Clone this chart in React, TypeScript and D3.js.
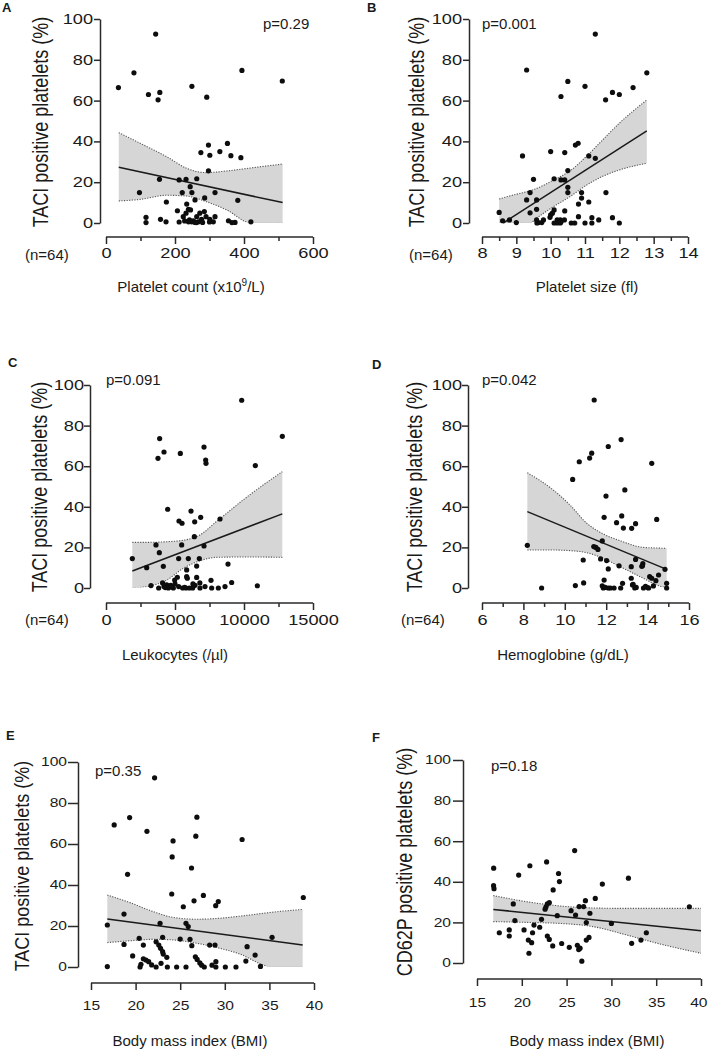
import { useEffect, useRef } from 'react';
import * as d3 from 'd3';

// ---- A: platelet count vs TACI+ platelets ----
const countX = [36, 81, 144, 123, 156, 151, 249, 292, 394, 511,
  297, 352, 275, 301, 330, 362, 391, 297,
  155, 212, 232, 263, 244, 97, 221, 249, 316, 382, 286, 258, 175, 234, 207, 239,
  116, 116, 158, 174, 212, 224, 232, 242, 245, 239, 248, 253, 263, 268, 272, 277, 285, 290, 301, 311, 316, 355, 374, 420,
  228, 258, 280, 300, 365, 262];
const countTaci = [66.4, 73.6, 92.6, 63, 64, 60.4, 67, 61.7, 74.8, 69.6,
  38.2, 39, 34.5, 33.2, 35, 33, 32, 25.6,
  21.4, 21.1, 21.4, 21.7, 17.8, 14.9, 14.9, 14.9, 14.9, 11.1, 12.3, 11.3, 10.3, 9.3, 6, 6.7,
  2.8, 0.2, 1.8, 0.6, 0.5, 3.1, 4.8, 1.5, 6.4, 0.6, 0.6, 1.1, 3.1, 0.6, 4.8, 1.8, 5.6, 3.1, 1.8, 0.6, 3.1, 1.1, 0.3, 0.6,
  1, 0.3, 0.3, 0.5, 0.2, 0.2];
const countBandX = [37, 100, 176, 234, 290, 350, 420, 512];
const countBandHi = [44.3, 39, 32.5, 26.8, 24.7, 25.5, 27, 28.9];
const countBandLo = [10.8, 11.6, 13.6, 13.2, 10.5, 6.4, 0, 0];
const countFitX = [37, 512];
const countFitY = [27.3, 10];

// ---- B: platelet size ----
const sizeX = [9.3, 11.3, 10.5, 11.0, 10.3, 11.6, 11.8, 12.0, 12.4, 12.8,
  9.18, 10.0, 10.41, 10.72, 10.8, 11.11, 11.3, 10.5,
  9.5, 10.1, 10.3, 10.41, 10.5, 10.5, 10.9, 11.61, 9.4, 10.9, 9.3, 9.59, 11.11, 10.81,
  8.5, 9.4, 9.59, 10.1, 10.41, 10.0, 10.05, 9.98,
  8.6, 8.8, 9.0, 9.59, 9.64, 9.79, 9.74, 10.19, 10.19, 10.28, 10.28, 10.4, 10.6, 10.7, 10.81, 11.0, 11.2, 11.2, 11.4, 11.8, 12.0,
  9.6, 10.3, 10.1];
const sizeTaci = [75, 92.6, 69.4, 67, 62, 60.4, 64, 63, 66.4, 73.6,
  32.9, 35, 34.5, 38.2, 39.1, 32.9, 31.7, 25.7,
  21.4, 21.7, 21.1, 21.1, 17.5, 14.9, 14.9, 14.9, 14.9, 12.2, 11.3, 11.3, 10.3, 9.3,
  5.2, 5, 6.7, 6.4, 5.9, 4, 4.8, 2.8,
  1.1, 1.5, 0.2, 1.5, 0.2, 1.5, 0.2, 1.5, 0, 1.5, 0, 1.5, 0, 0, 3.1, 0, 2.6, 0, 1.5, 2.6, 0,
  0, 0.5, 0];
const sizeBandX = [8.5, 9.0, 9.4, 9.6, 10.08, 10.56, 11.05, 11.53, 12.0, 12.8];
const sizeBandHi = [11.8, 14.1, 15.8, 17, 21, 25.5, 32.8, 41, 48.9, 60.3];
const sizeBandLo = [0, 0, 0, 2.5, 8, 12.9, 18.6, 23, 26, 29.3];
const sizeFitX = [8.62, 12.8];
const sizeFitY = [0, 45.2];

// ---- C: leukocytes ----
const leukoX = [9832, 3888, 3768, 4203, 5387, 7102, 7223, 7247, 10822, 12778, 4469,
  6160, 5290, 5508, 6426, 6860, 8261,
  3623, 3865, 5484, 6402, 7102,
  1908, 5266, 5966, 6763, 2947, 4155, 6570, 8840, 5845,
  5845, 5893, 5169, 4976, 6570, 7608, 9106, 10966, 3261,
  3817, 4203, 4517, 4686, 4879, 5266, 5556, 5797, 6039, 6280, 6449, 6811, 7174, 7657, 8140, 8623,
  4100, 4400, 4700, 5000, 6300, 6800, 5700, 4300];
const leukoTaci = [92.5, 73.6, 63.9, 67, 66.3, 69.4, 63, 61.4, 60.3, 74.7, 38.8,
  37.9, 33, 31.9, 32.6, 34.8, 34,
  21.2, 17.4, 21.2, 25.3, 20.7,
  14.5, 14.5, 14.5, 14.5, 10, 10.7, 10.8, 11.8, 8.9,
  5.6, 4.8, 5.3, 3.9, 5.2, 3.8, 2.7, 1.1, 1.2,
  0, 0.7, 0, 1.3, 0, 0.7, 0, 0, 0, 0, 1.3, 0, 0.7, 0, 0, 0.7,
  2.5, 1.5, 0.5, 2, 2, 2.5, 0.3, 0.2];
const leukoBandX = [1906, 3200, 4400, 5600, 6800, 8000, 10400, 12775];
const leukoBandHi = [22.5, 22.5, 22.8, 23.5, 26.1, 32.7, 45.8, 57.3];
const leukoBandLo = [0, 1, 3.9, 9.7, 13.4, 15.1, 15.3, 15.1];
const leukoFitX = [1906, 12775];
const leukoFitY = [8.4, 36.5];

// ---- D: hemoglobine ----
const hbX = [11.42, 11.3, 11.2, 10.7, 12.1, 12.72, 10.38, 11.99, 12.9, 14.2,
  11.9, 12.5, 12.75, 12.83, 13.23, 13.42, 14.44,
  8.19, 11.81, 11.4, 11.5, 11.6,
  10.89, 11.73, 12.02, 12.1, 12.62, 13.21, 13.42, 13.72, 13.77, 13.75, 14.84, 14.53, 14.1, 14.2, 14.4,
  8.88, 10.51, 10.91, 11.9, 12.79, 13.21, 13.27, 13.38, 11.86, 12.1, 12.38, 12.7, 13.8, 14.05, 14.92, 11.81, 14.28, 14.92,
  11.95, 13.3, 13.45, 13.9, 14.0, 12.2];
const hbTaci = [92.6, 66.4, 64, 62.2, 69.7, 73.1, 53.5, 45.3, 48.3, 61.4,
  34.8, 32.2, 35.5, 29.5, 29.4, 31.7, 33.8,
  21, 23.2, 20.4, 20, 19,
  13.8, 14.3, 13.5, 9.4, 10.9, 10.5, 14.1, 10.7, 12, 11, 9.2, 6.4, 5.6, 4.8, 3.6,
  0, 1.2, 2.5, 3.9, 2.3, 4.8, 1.5, 0, 0, 0, 0, 0, 0, 0, 0, 1.1, 1, 2.3,
  0.3, 1.8, 0.3, 0.8, 0.2, 0];
const hbBandX = [8.19, 9.44, 10.25, 11.06, 11.86, 12.67, 13.79, 14.44, 14.92];
const hbBandHi = [56.8, 48.3, 40.9, 31.9, 26.6, 23.3, 20, 19.7, 19.5];
const hbBandLo = [18.7, 18.7, 18.4, 17.4, 14.6, 10.5, 4.8, 1.5, 0];
const hbFitX = [8.19, 14.92];
const hbFitY = [37.6, 9.2];

// ---- E: BMI vs TACI ----
const bmiE = [17.6, 19.1, 19.33, 21.27, 22.13, 24.1, 24.2, 26.27, 26.75, 26.87, 31.94,
  16.83, 16.83, 18.7, 18.7, 19.67, 20.4, 20.87, 20.6, 20.5,
  20.87, 21.17, 21.47, 21.8, 22.3, 22.74,
  22.3, 22.6, 22.8, 23.03, 23.1, 23.5, 23.03, 22.85, 23.56, 24.05, 24.6, 25.65,
  25.0, 25.35, 25.65, 25.9, 26.1, 26.3, 26.55,
  26.7, 26.9, 27.2, 27.4, 27.7, 27.6, 28.3, 28.57, 28.9, 28.98, 29.27, 29.0, 29.0,
  30.06, 31.25, 32.36, 32.5, 33.4, 34.0, 35.3, 38.8];
const bmiTaciE = [69.3, 45.2, 72.9, 66.2, 92.3, 53.7, 61.5, 48.3, 63.8, 73.1, 62.2,
  20.5, 0.2, 25.8, 11, 5.4, 14, 10.7, 1.3, 0,
  4, 3.4, 2.6, 1, 0, 21.3,
  12.3, 10.7, 9.1, 7.5, 6.3, 4.7, 14.5, 1.8, 0, 35.6, 0, 0,
  13.6, 29.4, 21.3, 19.7, 13.5, 10.4, 32.3,
  5, 3.7, 2, 0.9, 0, 34.9, 10.7, 0.9, 10.7, 29.9, 31.9, 2.6, 0,
  0, 0, 2.9, 9.9, 5.8, 0.3, 14.5, 33.9];
const bmiEBandX = [16.83, 19.37, 21.98, 24.2, 26.85, 29.46, 31.7, 34.3, 35.07, 38.73];
const bmiEBandHi = [35.1, 31.4, 27, 24.2, 23.3, 23.8, 24.8, 26.2, 26.6, 28.1];
const bmiEBandLo = [11.9, 12.8, 13.5, 13.2, 11.6, 9.1, 6.3, 1, 0, 0];
const bmiEFitX = [16.83, 38.73];
const bmiEFitY = [23.4, 10.7];

// ---- F: BMI vs CD62P ----
const bmiF = [16.86, 19.65, 20.9, 22.77, 24.1, 24.2, 25.9, 31.9,
  16.85, 16.9, 19.05, 17.49, 18.6, 18.6, 19.23, 20.25, 20.73, 21.1, 20.8, 21.2, 21.36, 22.0, 22.2,
  22.7, 22.85, 23.07, 22.6, 22.85, 23.07, 23.45, 23.5, 23.96, 24.45, 25.3, 25.5, 26.0, 26.2, 26.5, 26.7,
  26.4, 26.9, 27.1, 27.6, 27.2, 27.2, 27.5, 28.2, 28.99, 30.0, 32.26, 33.3, 33.9, 38.7, 26.35];
const cd62F = [46.7, 43.3, 47.9, 49.8, 44.1, 40.1, 55.4, 41.8,
  38.1, 36.6, 29.1, 14.9, 16.3, 13.3, 20.9, 16.3, 11.3, 10, 4.8, 14.9, 18.7, 17.6, 21.5,
  27.7, 29.1, 29.7, 26.5, 13.3, 11.6, 8.4, 36, 23.3, 9.6, 7.7, 25.8, 23.6, 8.7, 7.3, 0.9,
  27.8, 27.8, 30.7, 24.5, 19.9, 11.3, 12.6, 31.8, 38.9, 19.5, 9.7, 11.3, 14.9, 27.7, 6.6];
const bmiFBandX = [16.82, 20.55, 24.26, 27.98, 31.7, 35.4, 40];
const bmiFBandHi = [33.2, 30.2, 28.1, 27.1, 26.9, 26.9, 26.9];
const bmiFBandLo = [20.4, 20, 19.5, 17.9, 13.8, 9.4, 4.8];
const bmiFFitX = [16.82, 40];
const bmiFFitY = [26.4, 15.9];

// ---- ticks ----
const yTicks = [0, 20, 40, 60, 80, 100];
const countTicks = [0, 200, 400, 600];
const countMinor = [100, 300, 500];
const sizeTicks = [8, 9, 10, 11, 12, 13, 14];
const sizeMinor = [8.5, 9.5, 10.5, 11.5, 12.5, 13.5];
const leukoTicks = [0, 5000, 10000, 15000];
const leukoMinor = [2500, 7500, 12500];
const hbTicks = [6, 8, 10, 12, 14, 16];
const hbMinor = [7, 9, 11, 13, 15];
const bmiTicks = [15, 20, 25, 30, 35, 40];

const FONT = 'Liberation Sans, Arial, Helvetica, sans-serif';
const PAGE_W = 708;

const panels = [
  { letter: 'A', lx: 2, ly: 12, xs: countX, ys: countTaci, bx: countBandX, bhi: countBandHi, blo: countBandLo, fx: countFitX, fy: countFitY,
    dom: [0, 600], major: countTicks, minor: countMinor, yAxisX: 100, yTop: 19, yBot: 223, xAxisY: 237, xL: 106, xR: 313,
    tickFont: 14, yTick: 6, yGap: 7, xLab: 21, yTitle: 'TACI positive platelets (%)', ytx: 48, yty: 122, ysc: 1.25,
    xTitle: ['Platelet count (x10', '9', '/L)'], xtx: 191, xty: 292, n: [25, 260], p: 'p=0.29', px: 263, py: 29 },
  { letter: 'B', lx: 367, ly: 12, xs: sizeX, ys: sizeTaci, bx: sizeBandX, bhi: sizeBandHi, blo: sizeBandLo, fx: sizeFitX, fy: sizeFitY,
    dom: [8, 14], major: sizeTicks, minor: sizeMinor, yAxisX: 469, yTop: 19, yBot: 223, xAxisY: 237, xL: 482, xR: 688,
    tickFont: 14, yTick: 6, yGap: 7, xLab: 21, yTitle: 'TACI positive platelets (%)', ytx: 424, yty: 122, ysc: 1.25,
    xTitle: ['Platelet size (fl)'], xtx: 587, xty: 292, n: [409, 260], p: 'p=0.001', px: 482, py: 29 },
  { letter: 'C', lx: 8, ly: 367, xs: leukoX, ys: leukoTaci, bx: leukoBandX, bhi: leukoBandHi, blo: leukoBandLo, fx: leukoFitX, fy: leukoFitY,
    dom: [0, 15000], major: leukoTicks, minor: leukoMinor, yAxisX: 90, yTop: 385, yBot: 588, xAxisY: 603, xL: 106, xR: 313,
    tickFont: 14, yTick: 6, yGap: 6, xLab: 22, yTitle: 'TACI positive platelets (%)', ytx: 47, yty: 487, ysc: 1.25,
    xTitle: ['Leukocytes (/µl)'], xtx: 175, xty: 660, n: [25, 625], p: 'p=0.091', px: 106, py: 385 },
  { letter: 'D', lx: 372, ly: 369, xs: hbX, ys: hbTaci, bx: hbBandX, bhi: hbBandHi, blo: hbBandLo, fx: hbFitX, fy: hbFitY,
    dom: [6, 16], major: hbTicks, minor: hbMinor, yAxisX: 468, yTop: 385, yBot: 588, xAxisY: 603, xL: 482, xR: 689,
    tickFont: 14, yTick: 6, yGap: 6, xLab: 22, yTitle: 'TACI positive platelets (%)', ytx: 422, yty: 487, ysc: 1.25,
    xTitle: ['Hemoglobine (g/dL)'], xtx: 563, xty: 660, n: [401, 625], p: 'p=0.042', px: 482, py: 385 },
  { letter: 'E', lx: 6, ly: 740, xs: bmiE, ys: bmiTaciE, bx: bmiEBandX, bhi: bmiEBandHi, blo: bmiEBandLo, fx: bmiEFitX, fy: bmiEFitY,
    dom: [15, 40], major: bmiTicks, minor: [], yAxisX: 78, yTop: 762, yBot: 967, xAxisY: 983, xL: 91, xR: 314,
    tickFont: 12, yTick: 10, yGap: 11, xLab: 27, yTitle: 'TACI positive platelets (%)', ytx: 29, yty: 866, ysc: 1.1,
    xTitle: ['Body mass index (BMI)'], xtx: 190, xty: 1046, n: null, p: 'p=0.35', px: 95, py: 776 },
  { letter: 'F', lx: 372, ly: 742, xs: bmiF, ys: cd62F, bx: bmiFBandX, bhi: bmiFBandHi, blo: bmiFBandLo, fx: bmiFFitX, fy: bmiFFitY,
    dom: [15, 40], major: bmiTicks, minor: [], yAxisX: 463, yTop: 760, yBot: 963, xAxisY: 979, xL: 477, xR: 701,
    tickFont: 12, yTick: 10, yGap: 12, xLab: 28, yTitle: 'CD62P positive platelets (%)', ytx: 412, yty: 862, ysc: 1.2,
    xTitle: ['Body mass index (BMI)'], xtx: 587, xty: 1046, n: null, p: 'p=0.18', px: 491, py: 771 },
];

type P = (typeof panels)[number];

function drawPanel(root: d3.Selection<SVGSVGElement, unknown, null, undefined>, p: P, idx: number) {
  const x = d3.scaleLinear().domain(p.dom).range([p.xL, p.xR]);
  const y = d3.scaleLinear().domain([0, 100]).range([p.yBot, p.yTop]);
  const g = root.append('g');
  const axisColor = '#2a2a2a';
  const stretch = 1.3;

  // confidence band
  const band = p.bx.map((v, i) => ({ x: v, lo: p.blo[i], hi: p.bhi[i] }));
  g.append('path')
    .datum(band)
    .attr('d', d3.area<any>().x((d) => x(d.x)).y0((d) => y(d.lo)).y1((d) => y(d.hi)).curve(d3.curveMonotoneX))
    .attr('fill', '#d6d6d6');

  const clipId = `clip-${idx}`;
  g.append('clipPath').attr('id', clipId).append('rect')
    .attr('x', p.xL - 20).attr('y', p.yTop - 20)
    .attr('width', p.xR - p.xL + 40).attr('height', p.yBot - p.yTop + 19.2);
  (['hi', 'lo'] as const).forEach((k) => {
    g.append('path')
      .datum(band)
      .attr('d', d3.line<any>().x((d) => x(d.x)).y((d) => y(d[k])).curve(d3.curveMonotoneX))
      .attr('fill', 'none')
      .attr('stroke', '#555')
      .attr('stroke-width', 1.1)
      .attr('stroke-dasharray', '1.2,1.4')
      .attr('clip-path', `url(#${clipId})`);
  });

  // regression line
  g.append('path')
    .datum(p.fx.map((v, i) => [v, p.fy[i]]))
    .attr('d', d3.line<any>().x((d) => x(d[0])).y((d) => y(d[1])))
    .attr('stroke', '#1a1a1a')
    .attr('stroke-width', 1.5)
    .attr('fill', 'none');

  // points
  g.selectAll('circle.pt')
    .data(p.xs.map((v, i) => [v, p.ys[i]]))
    .join('circle')
    .attr('class', 'pt')
    .attr('cx', (d) => x(d[0]))
    .attr('cy', (d) => y(d[1]))
    .attr('r', 2.6)
    .attr('fill', '#0d0d0d');

  // y axis
  const ya = g.append('g')
    .attr('transform', `translate(${p.yAxisX},0)`)
    .call(d3.axisLeft(y).tickValues(yTicks).tickSize(p.yTick).tickSizeOuter(0).tickFormat(d3.format('d')));
  ya.selectAll('path, line').attr('stroke', axisColor).attr('stroke-width', 1.5);
  ya.selectAll('text')
    .attr('font-family', FONT).attr('font-size', p.tickFont).attr('fill', '#1a1a1a')
    .attr('x', -p.yGap / stretch)
    .attr('transform', `scale(${stretch},1)`);

  // x axis
  const xa = g.append('g')
    .attr('transform', `translate(0,${p.xAxisY})`)
    .call(d3.axisBottom(x).tickValues(p.major).tickSize(7).tickSizeOuter(0).tickFormat(d3.format('d')));
  xa.select('.domain').attr('d', `M${p.xL},0H${p.xR}`);
  xa.selectAll('path, line').attr('stroke', axisColor).attr('stroke-width', 1.5);
  xa.selectAll<SVGTextElement, number>('text')
    .attr('font-family', FONT).attr('font-size', p.tickFont).attr('fill', '#1a1a1a')
    .attr('y', p.xLab).attr('dy', null)
    .attr('transform', `scale(${stretch},1)`)
    .each(function (d) {
      // keep the last label inside the page edge
      const half = (String(d).length * 0.556 * p.tickFont * stretch) / 2;
      if (x(d) + half > PAGE_W - 1) {
        d3.select(this).attr('text-anchor', 'end').attr('x', (PAGE_W - 1 - x(d)) / stretch);
      }
    });
  if (p.minor.length) {
    const xm = g.append('g')
      .attr('transform', `translate(0,${p.xAxisY})`)
      .call(d3.axisBottom(x).tickValues(p.minor).tickSize(4).tickFormat(() => ''));
    xm.select('.domain').remove();
    xm.selectAll('line').attr('stroke', axisColor).attr('stroke-width', 1.5);
  }

  const txt = (t: string, tx: number, ty: number, size: number) =>
    g.append('text').attr('x', tx).attr('y', ty).attr('font-family', FONT).attr('font-size', size).attr('fill', '#1a1a1a').text(t);

  // panel letter
  txt(p.letter, p.lx, p.ly, 13).attr('font-weight', 'bold');
  // p value
  txt(p.p, p.px, p.py, 15);
  // n label
  if (p.n) txt('(n=64)', p.n[0], p.n[1], 15);

  // y title
  g.append('text')
    .attr('transform', `translate(${p.ytx},${p.yty}) rotate(-90) scale(1,${p.ysc})`)
    .attr('text-anchor', 'middle')
    .attr('font-family', FONT)
    .attr('font-size', 18)
    .attr('fill', '#1a1a1a')
    .text(p.yTitle);

  // x title
  const xt = g.append('text')
    .attr('x', p.xtx).attr('y', p.xty)
    .attr('text-anchor', 'middle')
    .attr('font-family', FONT)
    .attr('font-size', 15)
    .attr('fill', '#1a1a1a');
  xt.append('tspan').text(p.xTitle[0]);
  if (p.xTitle.length > 1) {
    xt.append('tspan').attr('font-size', 10).attr('dy', -6).text(p.xTitle[1]);
    xt.append('tspan').attr('dy', 6).text(p.xTitle[2]);
  }
}

export default function App() {
  const svgRef = useRef<SVGSVGElement>(null);

  useEffect(() => {
    if (!svgRef.current) return;
    const svg = d3.select(svgRef.current);
    svg.selectAll('*').remove();
    panels.forEach((p, i) => drawPanel(svg, p, i));
  }, []);

  return (
    <svg
      ref={svgRef}
      width={PAGE_W}
      height={1050}
      style={{ position: 'absolute', left: 0, top: 0, background: '#fff', display: 'block' }}
    />
  );
}
